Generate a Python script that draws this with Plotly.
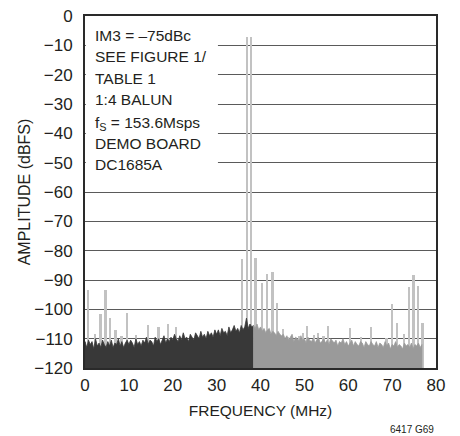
import plotly.graph_objects as go

# ---- data ----
FLOOR = -120
BIN = 0.4  # MHz spacing of noise samples

# noise floor, first Nyquist half (0 .. 38.4 MHz), dark
noise_dark = [
    -111, -113, -110.5, -112, -111, -113.5, -110, -112.5, -111.5, -113, -110.5, -112, -113,
    -111, -112.5, -110.5, -113, -111.5, -112, -110, -112.5, -111, -113, -111.5, -110.5,
    -112, -110.5, -111.5, -113, -110, -112, -111, -112.5, -110.5, -111.5, -109.5, -112, -110.5,
    -111, -112.5, -109.5, -111, -110, -112, -110.5, -109, -111.5, -110, -111, -109.5,
    -110.5, -108.5, -110, -111, -109, -110.5, -108, -110, -109.5, -111, -108.5, -109.5, -110.5,
    -108, -109, -110, -107.5, -109.5, -108.5, -110, -107.5, -109, -108, -109.5, -107,
    -108.5, -107, -109, -106.5, -108, -107.5, -109, -106, -108, -107, -105.5, -107.5,
    -106.5, -108, -105.5, -107, -106, -103, -106.5, -105, -106, -105.5,
]
# noise floor, second half (38.4 .. 76.8 MHz), grey
noise_grey = [
    -105.5, -106.5, -105, -107, -106, -107.5, -106.5, -108, -107, -106.5, -108.5, -107.5,
    -108, -109, -107.5, -108.5, -109,
    -108.5, -110, -109, -110.5, -109.5, -108.5, -111, -109.5, -110, -111, -109, -110.5,
    -110, -111.5, -109.5, -110.5, -111, -110, -111.5, -110.5, -109.5, -111.5, -111, -110, -111.5,
    -110.5, -112, -110, -111, -111.5, -110.5, -112.5, -111, -111.5, -110, -112, -111,
    -112.5, -111.5, -110.5, -112.5, -111, -112, -112.5, -111, -111.5, -113, -111, -112, -112.5,
    -111, -112, -112.5, -111, -113, -111.5, -112, -113, -111, -112.5, -111.5, -113.5,
    -112, -112.5, -111, -113, -112, -112.5, -113.5, -111.5, -112.5, -112, -113, -111.5,
    -113.5, -112, -112.5, -111.5, -113, -112,
]
DARK_START = 0.0
GREY_START = 38.4

# spurs and the two test tones (MHz, dBFS)
spur_freq = [0.8, 2.3, 3.6, 4.7, 5.7, 7.0, 8.4, 9.55, 11.7, 14.4, 16.8, 19.0, 20.8,
             35.9, 36.9, 37.9, 38.9, 40.4, 41.6, 42.8, 43.8, 45.1, 46.3, 48.8, 49.8,
             50.7, 52.3, 53.1, 54.4, 55.5, 60.4, 62.9, 65.3, 68.8, 70.1, 71.1, 72.8,
             73.9, 74.9, 75.9, 76.95]
spur_db = [-93.5, -108.4, -101.6, -93.4, -102.8, -107, -109, -101.2, -108.8, -105.4, -106,
           -105, -106, -83, -7.1, -7.1, -82.5, -90.9, -88, -87.4, -98, -106.8, -109.3,
           -109, -108, -105.7, -108.8, -108.2, -109.1, -105.8, -106.5, -109.3, -106,
           -109.8, -98.3, -104.8, -108.5, -92.5, -88.3, -92, -104.8]

x_ticks = [0, 10, 20, 30, 40, 50, 60, 70, 80]
y_ticks = [-120, -110, -100, -90, -80, -70, -60, -50, -40, -30, -20, -10, 0]

note_lines = ["IM3 = –75dBc", "SEE FIGURE 1/", "TABLE 1", "1:4 BALUN",
              "f<sub>S</sub> = 153.6Msps", "DEMO BOARD", "DC1685A"]
note_y = [-6.6, -13.9, -21.3, -28.6, -36.7, -43.3, -50.7]  # line centres (dBFS units)

FONT = "Liberation Sans, Arial, sans-serif"
TXT = "#231f20"

# ---- figure ----
fig = go.Figure()

fig.add_trace(go.Bar(
    x=spur_freq, y=[v - FLOOR for v in spur_db], base=FLOOR, width=0.4,
    marker=dict(color="#c2c2c2", line=dict(width=0)), hoverinfo="skip"))


def area(start, vals, color):
    xs = [start + i * BIN for i in range(len(vals))]
    return go.Scatter(x=[xs[0]] + xs + [xs[-1]], y=[FLOOR] + vals + [FLOOR],
                      fill="toself", fillcolor=color, mode="lines",
                      line=dict(color=color, width=0.8), hoverinfo="skip")


fig.add_trace(area(DARK_START, noise_dark, "#383838"))
fig.add_trace(area(GREY_START, noise_grey, "#9a9a9a"))

# white backing of the note block (covers gridlines only)
fig.add_shape(type="rect", xref="x", yref="y", x0=0.2, x1=30.3, y0=-55, y1=-0.3,
              fillcolor="white", line=dict(width=0), layer="between")

for txt, yy in zip(note_lines, note_y):
    fig.add_annotation(xref="x", yref="y", x=1.8, y=yy, xanchor="left",
                       yanchor="middle", align="left", showarrow=False, text=txt,
                       font=dict(family=FONT, size=15.5, color=TXT))

fig.add_annotation(xref="paper", yref="paper", x=1.0, y=-0.175, xanchor="right",
                   yanchor="middle", showarrow=False, text="6417 G69",
                   font=dict(family=FONT, size=10, color=TXT))

fig.update_layout(
    width=460, height=436, showlegend=False,
    margin=dict(l=77, r=32, t=8, b=76),
    paper_bgcolor="white", plot_bgcolor="white",
    font=dict(family=FONT, size=17, color=TXT),
    bargap=0,
)
fig.update_xaxes(range=[0, 80], tickvals=x_ticks, showgrid=False, zeroline=False,
                 showline=True, mirror=True, linecolor="#2a2a2a", linewidth=2,
                 ticks="outside", ticklen=1, tickcolor="rgba(0,0,0,0)",
                 tickfont=dict(size=17), automargin=False, ticklabeloverflow="allow",
                 title=dict(text="FREQUENCY (MHz)", standoff=11, font=dict(size=15.5)))
fig.update_yaxes(range=[-120, 0], tickvals=y_ticks, showgrid=True, gridcolor="#5a5a5a",
                 gridwidth=1, zeroline=False, showline=True, mirror=True,
                 linecolor="#2a2a2a", linewidth=2, ticks="outside", ticklen=7,
                 tickcolor="rgba(0,0,0,0)", tickfont=dict(size=17), automargin=False,
                 ticklabeloverflow="allow",
                 title=dict(text="AMPLITUDE (dBFS)", standoff=0, font=dict(size=16)))

fig.write_html("out.html")
